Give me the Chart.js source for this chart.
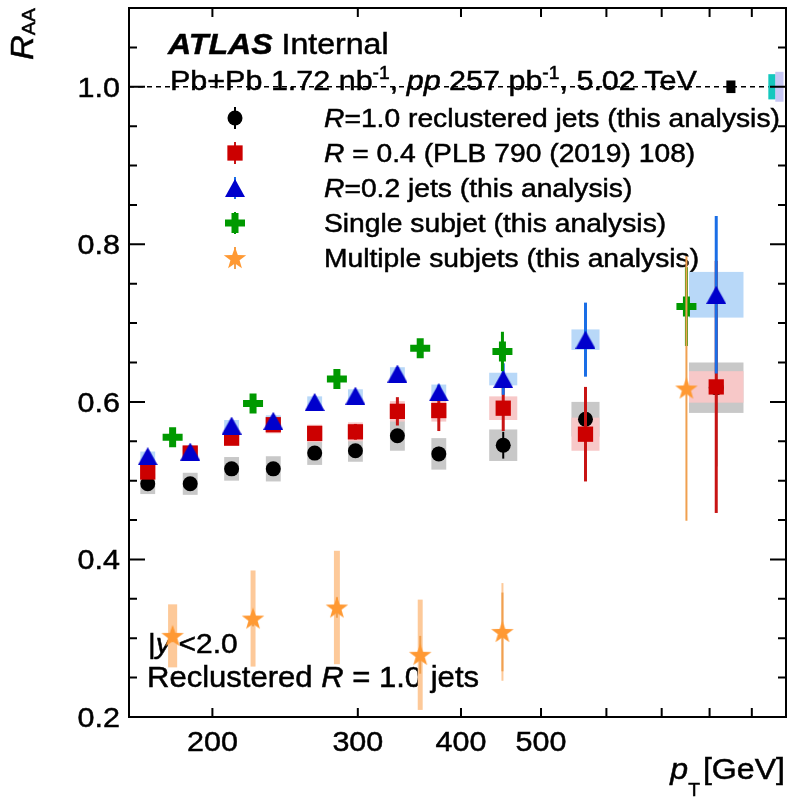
<!DOCTYPE html>
<html>
<head>
<meta charset="utf-8">
<script src="https://cdn.jsdelivr.net/npm/chart.js@4.4.1/dist/chart.umd.min.js"></script>
<style>
  html, body { margin: 0; padding: 0; background: #fff; }
  canvas { display: block; }
</style>
</head>
<body>
<canvas id="raa" width="788" height="797"></canvas>
<script>
// ── pT bin centres [GeV] ─────────────────────────
const jetPt = [167, 188, 211, 237, 266, 298, 335, 376, 450, 566, 815];
const subPt = [179, 224, 283, 357, 449, 750];

// R = 1.0 reclustered jets
const r10Raa  = [0.496, 0.496, 0.515, 0.515, 0.535, 0.538, 0.557, 0.534, 0.545, 0.578, 0.618];
const r10Stat = [0.003, 0.003, 0.003, 0.004, 0.004, 0.005, 0.007, 0.009, 0.017, 0.040, 0.100];
const r10Sys  = [0.013, 0.014, 0.015, 0.016, 0.015, 0.014, 0.019, 0.020, 0.020, 0.022, 0.032];

// R = 0.4 (PLB 790 (2019) 108)
const r04Raa  = [0.511, 0.535, 0.554, 0.571, 0.560, 0.562, 0.588, 0.589, 0.592, 0.559, 0.619];
const r04Stat = [0.003, 0.004, 0.005, 0.006, 0.008, 0.010, 0.018, 0.026, 0.029, 0.060, 0.160];
const r04Sys  = [0.010, 0.010, 0.010, 0.011, 0.011, 0.012, 0.013, 0.014, 0.015, 0.021, 0.020];

// R = 0.2 jets
const r02Raa  = [0.531, 0.537, 0.570, 0.576, 0.600, 0.608, 0.636, 0.612, 0.629, 0.679, 0.736];
const r02Stat = [0.003, 0.003, 0.004, 0.004, 0.005, 0.006, 0.008, 0.010, 0.020, 0.047, 0.100];
const r02Sys  = [0.006, 0.006, 0.007, 0.007, 0.007, 0.008, 0.008, 0.010, 0.008, 0.013, 0.029];

// single / multiple subjets
const singleRaa  = [0.555, 0.598, 0.629, 0.668, 0.664, 0.721];
const singleStat = [0.004, 0.005, 0.006, 0.008, 0.025, 0.050];
const multiRaa   = [0.303, 0.325, 0.339, 0.279, 0.308, 0.617];
const multiStat  = [0.008, 0.010, 0.013, 0.024, 0.050, 0.168];
const multiSys   = [0.040, 0.061, 0.072, 0.070, 0.062, 0.000];

// half-width of the systematic boxes, in decades of pT
const jetBoxHalf = [0.009, 0.009, 0.009, 0.009, 0.009, 0.009, 0.009, 0.009, 0.017, 0.017, 0.033];
const subBoxHalf = [0.0055, 0.003, 0.0036, 0.003, 0.0012, 0];

// normalisation uncertainties drawn at unity
const normPt   = [849, 952, 972];
const normErr  = [0.008, 0.016, 0.019];
const normHalf = [0.0055, 0.0044, 0.005];

// axes
const xMin = 158.5, xMax = 990, yMin = 0.2, yMax = 1.1;
const xTicks = [200, 300, 400, 500, 600, 700, 800, 900];
const xTickLabels = ['200', '300', '400', '500'];
const yTickLabels = ['0.2', '0.4', '0.6', '0.8', '1.0'];

const FONT = '"Liberation Sans", Arial, Helvetica, sans-serif';
const SX = 1.07; // horizontal text stretch
const F = (size, style) => (style ? style + ' ' : '') + size + 'px ' + FONT;

// ── custom marker images ─────────────────────────
function markerCanvas(w, h, draw) {
  const c = document.createElement('canvas');
  c.width = w; c.height = h;
  draw(c.getContext('2d'));
  return c;
}
const triangleImg = markerCanvas(20, 18, g => {
  g.fillStyle = '#0000cc';
  g.beginPath(); g.moveTo(10, 0); g.lineTo(20, 18); g.lineTo(0, 18); g.closePath(); g.fill();
});
const starImg = markerCanvas(24, 24, g => {
  g.fillStyle = '#ff9933';
  g.beginPath();
  for (let i = 0; i < 10; i++) {
    const r = i % 2 ? 4.8 : 11.8;
    const a = -Math.PI / 2 + i * Math.PI / 5;
    g.lineTo(12 + r * Math.cos(a), 12.8 + r * Math.sin(a));
  }
  g.closePath(); g.fill();
});

const series = [
  { label: 'R=1.0', pt: jetPt, val: r10Raa, stat: r10Stat, sys: r10Sys, boxHalf: jetBoxHalf,
    color: '#000000', statColor: '#000000', boxColor: '#c8c8c8', statWidth: 2,
    style: 'circle', radius: 7.5, bw: 0 },
  { label: 'R=0.4', pt: jetPt, val: r04Raa, stat: r04Stat, sys: r04Sys, boxHalf: jetBoxHalf,
    color: '#cc0000', statColor: '#c81414', boxColor: '#f7c8c8', statWidth: 3,
    style: 'rect', radius: 10.8, bw: 0 },
  { label: 'R=0.2', pt: jetPt, val: r02Raa, stat: r02Stat, sys: r02Sys, boxHalf: jetBoxHalf,
    color: '#0000cc', statColor: '#1a6ee6', boxColor: '#b8d8f8', statWidth: 3,
    style: triangleImg, radius: 10, bw: 0 },
  { label: 'single', pt: subPt, val: singleRaa, stat: singleStat, sys: null, boxHalf: subBoxHalf,
    color: '#009900', statColor: '#009900', boxColor: null, statWidth: 3,
    style: 'cross', radius: 10, bw: 7 },
  { label: 'multiple', pt: subPt, val: multiRaa, stat: multiStat, sys: multiSys, boxHalf: subBoxHalf,
    color: '#ff9933', statColor: '#f0a050', boxColor: '#fdc999', statWidth: 2,
    style: starImg, radius: 12, bw: 0 },
];

const legendRows = [
  [{ t: 'R', s: 'italic' }, { t: '=1.0 reclustered jets (this analysis)' }],
  [{ t: 'R', s: 'italic' }, { t: ' = 0.4 (PLB 790 (2019) 108)' }],
  [{ t: 'R', s: 'italic' }, { t: '=0.2 jets (this analysis)' }],
  [{ t: 'Single subjet (this analysis)' }],
  [{ t: 'Multiple subjets (this analysis)' }],
];

// draw a list of text runs with mixed fonts
function drawRuns(ctx, runs, x, y, align, size) {
  ctx.save();
  ctx.textAlign = 'left';
  ctx.textBaseline = 'alphabetic';
  const fontOf = r => F(r.size || size, r.s);
  let w = 0;
  runs.forEach(r => { ctx.font = fontOf(r); w += (r.dx || 0) + ctx.measureText(r.t).width * SX; });
  let cx = align === 'right' ? x - w : align === 'center' ? x - w / 2 : x;
  runs.forEach(r => {
    ctx.font = fontOf(r);
    cx += r.dx || 0;
    ctx.save();
    ctx.translate(cx, y + (r.dy || 0));
    ctx.scale(SX, 1);
    ctx.fillStyle = '#000';
    ctx.strokeStyle = '#000';
    ctx.lineWidth = 0.5;
    ctx.fillText(r.t, 0, 0);
    ctx.strokeText(r.t, 0, 0);
    ctx.restore();
    cx += ctx.measureText(r.t).width * SX;
  });
  ctx.restore();
}

const raaDecor = {
  id: 'raaDecor',
  beforeDatasetsDraw(chart) {
    const ctx = chart.ctx;
    const xs = chart.scales.x, ys = chart.scales.y;
    const { left, right } = chart.chartArea;

    // labels inside the frame
    drawRuns(ctx, [{ t: 'ATLAS', s: 'bold italic' }, { t: ' Internal' }], 168, 54, 'left', 30);
    drawRuns(ctx, [
      { t: 'Pb+Pb 1.72 nb' }, { t: '-1', size: 18, dy: -11 }, { t: ', ' },
      { t: 'pp', s: 'italic' }, { t: ' 257 pb' }, { t: '-1', size: 18, dy: -11 },
      { t: ', 5.02 TeV' },
    ], 170, 90, 'left', 28.5);
    legendRows.forEach((row, i) => drawRuns(ctx, row, 324, 127 + i * 35, 'left', 26.4));
    drawRuns(ctx, [{ t: '|' }, { t: 'y', s: 'italic' }, { t: '|<2.0' }], 148, 653, 'left', 28);
    drawRuns(ctx, [{ t: 'Reclustered ' }, { t: 'R', s: 'italic' }, { t: ' = 1.0 jets' }], 147, 687, 'left', 29);

    // unity line
    ctx.save();
    ctx.strokeStyle = '#000';
    ctx.lineWidth = 1.5;
    ctx.setLineDash([5, 4]);
    const y1 = ys.getPixelForValue(1.0);
    ctx.beginPath(); ctx.moveTo(left, y1); ctx.lineTo(right, y1); ctx.stroke();
    ctx.restore();

    const box = (pt, half, v, err, color) => {
      const xl = xs.getPixelForValue(pt / Math.pow(10, half));
      const xr = xs.getPixelForValue(pt * Math.pow(10, half));
      const yt = ys.getPixelForValue(v + err);
      const yb = ys.getPixelForValue(v - err);
      ctx.fillStyle = color;
      ctx.fillRect(xl, yt, Math.max(xr - xl, 2), yb - yt);
    };

    // normalisation boxes
    const normColors = ['#000000', '#14c8be', '#c8c8f5'];
    normPt.forEach((p, i) => box(p, normHalf[i], 1.0, normErr[i], normColors[i]));

    // systematic boxes
    series.forEach(s => {
      if (!s.sys) return;
      s.pt.forEach((p, i) => { if (s.sys[i] > 0) box(p, s.boxHalf[i], s.val[i], s.sys[i], s.boxColor); });
    });
  },
  beforeDatasetDraw(chart, args) {
    const s = series[args.index];
    const ctx = chart.ctx;
    const xs = chart.scales.x, ys = chart.scales.y;
    ctx.save();
    ctx.strokeStyle = s.statColor;
    ctx.lineWidth = s.statWidth;
    s.pt.forEach((p, i) => {
      const x = xs.getPixelForValue(p);
      ctx.beginPath();
      ctx.moveTo(x, ys.getPixelForValue(s.val[i] + s.stat[i]));
      ctx.lineTo(x, ys.getPixelForValue(s.val[i] - s.stat[i]));
      ctx.stroke();
    });
    ctx.restore();
  },
  afterDatasetsDraw(chart) {
    const ctx = chart.ctx;
    const xs = chart.scales.x, ys = chart.scales.y;
    const { left, right, top, bottom } = chart.chartArea;

    // legend markers
    series.forEach((s, i) => {
      const x = 235, y = 118 + i * 35;
      ctx.save();
      ctx.strokeStyle = s.statColor;
      ctx.lineWidth = 2;
      ctx.beginPath(); ctx.moveTo(x, y - 11); ctx.lineTo(x, y + 11); ctx.stroke();
      ctx.fillStyle = s.color;
      ctx.strokeStyle = s.color;
      ctx.lineWidth = s.bw;
      Chart.helpers.drawPoint(ctx, { pointStyle: s.style, radius: s.radius, borderWidth: s.bw, rotation: 0 }, x, y);
      ctx.restore();
    });

    ctx.save();
    ctx.strokeStyle = '#000';
    ctx.lineWidth = 2;
    ctx.strokeRect(left, top, right - left, bottom - top);

    // x ticks, top and bottom
    ctx.beginPath();
    xTicks.forEach(v => {
      const x = xs.getPixelForValue(v);
      ctx.moveTo(x, bottom); ctx.lineTo(x, bottom - 9);
      ctx.moveTo(x, top); ctx.lineTo(x, top + 9);
    });
    // y ticks, left and right
    for (let k = 0; k <= 18; k++) {
      const y = ys.getPixelForValue(yMin + k * 0.05);
      const len = k % 4 === 0 ? 16 : 8;
      ctx.moveTo(left, y); ctx.lineTo(left + len, y);
      ctx.moveTo(right, y); ctx.lineTo(right - len, y);
    }
    ctx.stroke();
    ctx.restore();

    // tick labels
    xTickLabels.forEach(l => drawRuns(ctx, [{ t: l }], xs.getPixelForValue(+l), 751, 'center', 28.5));
    yTickLabels.forEach(l => drawRuns(ctx, [{ t: l }], 120, ys.getPixelForValue(+l) + 10, 'right', 28.5));

    // axis titles
    drawRuns(ctx, [{ t: 'p', s: 'italic' }, { t: 'T', size: 18, dy: 17 }, { t: '[GeV]', dx: 3 }],
      785, 779, 'right', 30);
    ctx.save();
    ctx.translate(33, 60);
    ctx.rotate(-Math.PI / 2);
    drawRuns(ctx, [{ t: 'R', s: 'italic' }, { t: 'AA', size: 19, dy: 2 }], 0, 0, 'left', 32);
    ctx.restore();
  },
};

new Chart(document.getElementById('raa'), {
  type: 'scatter',
  data: {
    datasets: series.map((s, k) => ({
      label: s.label,
      data: s.pt.map((p, i) => ({ x: p, y: s.val[i] })),
      order: series.length - k,
      pointStyle: s.style,
      pointRadius: s.radius,
      pointHoverRadius: s.radius,
      pointBorderWidth: s.bw,
      pointBackgroundColor: s.color,
      pointBorderColor: s.color,
    })),
  },
  options: {
    responsive: false,
    animation: false,
    layout: { autoPadding: false, padding: { left: 129, right: 2, top: 8, bottom: 80 } },
    plugins: { legend: { display: false }, tooltip: { enabled: false } },
    scales: {
      x: { type: 'logarithmic', min: xMin, max: xMax, display: false },
      y: { type: 'linear', min: yMin, max: yMax, display: false },
    },
  },
  plugins: [raaDecor],
});
</script>
</body>
</html>
